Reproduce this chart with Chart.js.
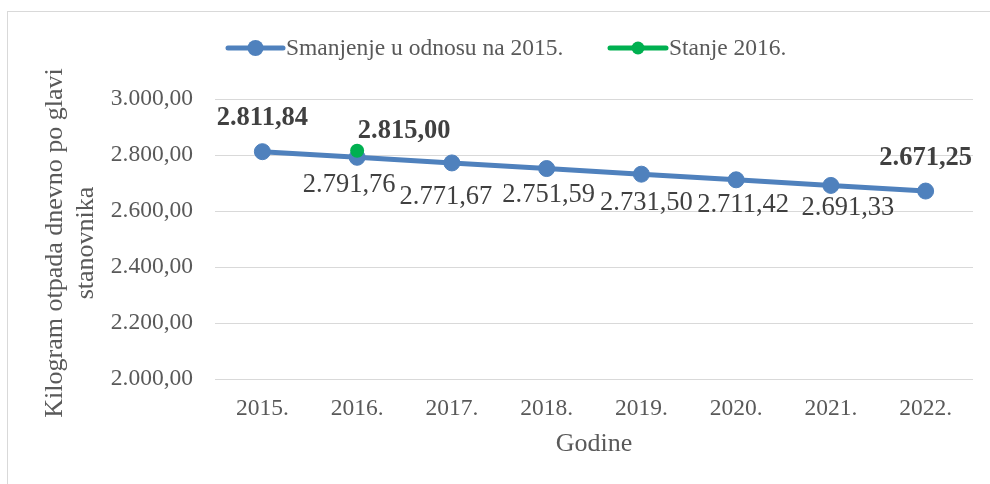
<!DOCTYPE html>
<html>
<head>
<meta charset="utf-8">
<script src="https://cdn.jsdelivr.net/npm/chart.js@4.4.1/dist/chart.umd.min.js"></script>
<style>
html,body{margin:0;padding:0;background:#fff;}
#wrap{width:990px;height:484px;position:relative;}
</style>
</head>
<body>
<div id="wrap"><canvas id="c" width="990" height="484"></canvas></div>
<script>
const categories = ['2015.', '2016.', '2017.', '2018.', '2019.', '2020.', '2021.', '2022.'];
const reductionValues = [2811.84, 2791.76, 2771.67, 2751.59, 2731.50, 2711.42, 2691.33, 2671.25];
const state2016Values = [null, 2815.00, null, null, null, null, null, null];
const seriesNames = ['Smanjenje u odnosu na 2015.', 'Stanje 2016.'];
const yTitleLines = ['Kilogram otpada dnevno po glavi', 'stanovnika'];
const xTitle = 'Godine';
const yMin = 2000, yMax = 3000, yStep = 200;

const FONT = '"Liberation Serif", "Times New Roman", serif';
const BLUE = '#4F81BD';
const GREEN = '#00B050';

function fmt(v) {
  const fixed = v.toFixed(2);
  let [ip, dp] = fixed.split('.');
  ip = ip.replace(/\B(?=(\d{3})+(?!\d))/g, '.');
  return ip + ',' + dp;
}

const labelPlugin = {
  id: 'customDraw',
  beforeDraw(chart) {
    const ctx = chart.ctx;
    ctx.save();
    ctx.fillStyle = '#fff';
    ctx.fillRect(0, 0, chart.width, chart.height);
    ctx.strokeStyle = '#D9D9D9';
    ctx.lineWidth = 1;
    ctx.strokeRect(7.5, 11.5, 1100, 600);
    ctx.restore();
  },
  afterDatasetsDraw(chart, args, opts) {
    const ctx = chart.ctx;
    ctx.save();
    ctx.textAlign = 'center';
    ctx.textBaseline = 'middle';
    const metaB = chart.getDatasetMeta(1);
    metaB.data.forEach((pt, i) => {
      const off = opts.blueOffsets[i];
      const bold = opts.boldIdx.includes(i);
      ctx.font = (bold ? 'bold ' : '') + '26.5px ' + FONT;
      ctx.fillStyle = '#404040';
      ctx.fillText(fmt(reductionValues[i]), pt.x + off[0], pt.y + off[1]);
    });
    const metaG = chart.getDatasetMeta(0);
    metaG.data.forEach((pt, i) => {
      if (state2016Values[i] == null) return;
      ctx.font = 'bold 26.5px ' + FONT;
      ctx.fillStyle = '#404040';
      ctx.fillText(fmt(state2016Values[i]), pt.x + opts.greenOffset[0], pt.y + opts.greenOffset[1]);
    });
    ctx.restore();
  },
  afterDraw(chart) {
    const ctx = chart.ctx;
    const area = chart.chartArea;
    ctx.save();
    ctx.fillStyle = '#595959';
    ctx.font = '26px ' + FONT;
    ctx.textAlign = 'center';
    ctx.textBaseline = 'middle';
    ctx.fillText(xTitle, (area.left + area.right) / 2, 444);
    const cy = (area.top + area.bottom) / 2 + 4;
    ctx.textBaseline = 'alphabetic';
    [62, 93].forEach((bx, i) => {
      ctx.save();
      ctx.translate(bx, cy);
      ctx.rotate(-Math.PI / 2);
      ctx.fillText(yTitleLines[i], 0, 0);
      ctx.restore();
    });
    const items = [
      {x1: 228, x2: 283, color: BLUE, r: 8, tx: 286, text: seriesNames[0]},
      {x1: 610, x2: 666, color: GREEN, r: 6.5, tx: 669, text: seriesNames[1]}
    ];
    const ly = 48;
    items.forEach(it => {
      ctx.strokeStyle = it.color;
      ctx.lineWidth = 5;
      ctx.lineCap = 'round';
      ctx.beginPath();
      ctx.moveTo(it.x1, ly);
      ctx.lineTo(it.x2, ly);
      ctx.stroke();
      ctx.fillStyle = it.color;
      ctx.beginPath();
      ctx.arc((it.x1 + it.x2) / 2, ly, it.r, 0, Math.PI * 2);
      ctx.fill();
      ctx.fillStyle = '#595959';
      ctx.font = '23.5px ' + FONT;
      ctx.textAlign = 'left';
      ctx.textBaseline = 'middle';
      ctx.fillText(it.text, it.tx, ly + 1);
    });
    ctx.restore();
  }
};

new Chart(document.getElementById('c'), {
  type: 'line',
  data: {
    labels: categories,
    datasets: [
      {
        label: seriesNames[1],
        data: state2016Values,
        borderColor: GREEN,
        backgroundColor: GREEN,
        pointRadius: 7,
        pointHoverRadius: 7,
        pointBorderWidth: 0,
        borderWidth: 5,
        order: 0
      },
      {
        label: seriesNames[0],
        data: reductionValues,
        borderColor: BLUE,
        backgroundColor: BLUE,
        pointBackgroundColor: BLUE,
        pointBorderColor: BLUE,
        pointRadius: 8,
        pointHoverRadius: 8,
        pointBorderWidth: 1,
        borderWidth: 5,
        tension: 0,
        order: 1
      }
    ]
  },
  options: {
    responsive: false,
    animation: false,
    events: [],
    layout: {padding: {top: 99, right: 17, left: 0, bottom: 0}},
    plugins: {
      legend: {display: false},
      tooltip: {enabled: false},
      customDraw: {
        blueOffsets: [[0, -34], [-8, 28], [-6, 34], [2, 26], [5, 29], [7, 25], [17, 23], [0, -33]],
        boldIdx: [0, 7],
        greenOffset: [47, -20]
      }
    },
    scales: {
      x: {
        offset: true,
        grid: {display: false, drawTicks: false},
        border: {display: false},
        ticks: {color: '#595959', font: {family: FONT, size: 23.5}, padding: 16, maxRotation: 0},
        afterFit(scale) { scale.height = 105; }
      },
      y: {
        min: yMin,
        max: yMax,
        grid: {color: '#D9D9D9', lineWidth: 1, drawTicks: false},
        border: {display: false},
        ticks: {
          stepSize: yStep,
          color: '#595959',
          font: {family: FONT, size: 23.5},
          padding: 22,
          callback: v => fmt(v)
        },
        afterFit(scale) { scale.width = 215; }
      }
    }
  },
  plugins: [labelPlugin]
});
</script>
</body>
</html>
